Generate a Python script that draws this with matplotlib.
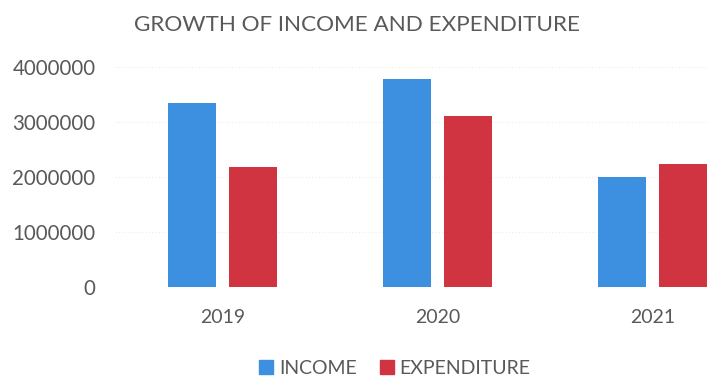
import numpy as np
from matplotlib import pyplot as plt
from matplotlib.patches import Patch

years = ["2019", "2020", "2021"]
income = [3350000, 3780000, 2000000]
expenditure = [2190000, 3110000, 2240000]
yticks = [0, 1000000, 2000000, 3000000, 4000000]

plt.rcParams['font.family'] = ['Lato', 'DejaVu Sans']
text_col = '#595959'
blue = '#3d8fe0'
red = '#cf3440'

fig = plt.figure(figsize=(7.09, 3.8), dpi=100)
ax = fig.add_axes([0.162, 0.2447, 0.910, 0.579])

x = np.arange(len(years))
w = 0.223
ax.bar(x - 0.142, income, w, color=blue, label="INCOME", zorder=2)
ax.bar(x + 0.142, expenditure, w, color=red, label="EXPENDITURE", zorder=2)

ax.set_xlim(-0.5, 2.5)
ax.set_ylim(0, 4000000)
ax.set_yticks(yticks)
ax.set_yticklabels([str(v) for v in yticks])
ax.set_xticks(x)
ax.set_xticklabels(years)
ax.yaxis.grid(True, color='#ececec', linestyle=(0, (1, 2)), linewidth=0.8, zorder=0)
ax.tick_params(length=0, labelsize=14, colors=text_col)
ax.tick_params(axis='y', pad=14, labelsize=14.8)
ax.tick_params(axis='x', pad=16)
for s in ax.spines.values():
    s.set_visible(False)

fig.text(0.503, 0.934, "GROWTH OF INCOME AND EXPENDITURE", ha='center', va='center',
         fontsize=16.2, color=text_col)

handles = [Patch(color=blue, label="INCOME"), Patch(color=red, label="EXPENDITURE")]
fig.legend(handles=handles, loc='center', bbox_to_anchor=(0.557, 0.03), ncol=2,
           frameon=False, fontsize=14, labelcolor=text_col, handlelength=0.7,
           handleheight=0.7, handletextpad=0.3, columnspacing=1.2)

fig.savefig("out.png", dpi=100)
